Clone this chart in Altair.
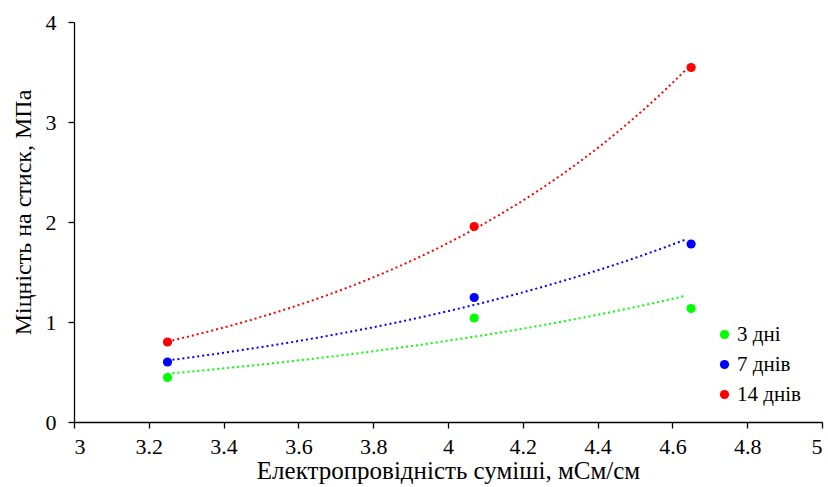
import altair as alt
import pandas as pd

series_names = ["3 дні", "7 днів", "14 днів"]
conductivity = [3.25, 4.07, 4.65]
strength_3 = [0.445, 1.04, 1.135]
strength_7 = [0.60, 1.245, 1.78]
strength_14 = [0.80, 1.955, 3.545]
colors = ["#00ff00", "#0000ff", "#ff0000"]
x_ticks = [3, 3.2, 3.4, 3.6, 3.8, 4, 4.2, 4.4, 4.6, 4.8, 5]
y_ticks = [0, 1, 2, 3, 4]

rows = []
for name, vals in zip(series_names, [strength_3, strength_7, strength_14]):
    for xv, yv in zip(conductivity, vals):
        rows.append({"series": name, "x": xv, "y": yv})
df = pd.DataFrame(rows)

FONT = "Times New Roman, Liberation Serif, serif"
xscale = alt.Scale(domain=[3, 5], nice=False, zero=False)
yscale = alt.Scale(domain=[0, 4], nice=False)
cscale = alt.Scale(domain=series_names, range=colors)

x_axis = alt.Axis(values=x_ticks, format=".1~f", title="Електропровідність суміші, мСм/см",
                  grid=False, labelPadding=8, titlePadding=1, titleFontSize=25,
                  labelFont=FONT, titleFont=FONT)
y_axis = alt.Axis(values=y_ticks, format="d", title="Міцність на стиск, МПа",
                  grid=False, labelPadding=12, titlePadding=10, titleY=190,
                  titleFontSize=24, labelFont=FONT, titleFont=FONT)

legend = alt.Legend(
    title=None, orient="none", legendX=640, legendY=302,
    labelFont=FONT, labelFontSize=21, labelColor="black",
    symbolType="circle", symbolSize=85, rowPadding=8, labelOffset=2,
)

base = alt.Chart(df)

trend = (
    base.transform_calculate(ly="log(datum.y)")
    .transform_regression("x", "ly", method="poly", order=1,
                          extent=[3.25, 4.635], groupby=["series"])
    .transform_calculate(yt="exp(datum.ly)")
    .mark_line(strokeDash=[2, 3], strokeWidth=2)
    .encode(
        x=alt.X("x:Q", scale=xscale, axis=x_axis),
        y=alt.Y("yt:Q", scale=yscale, axis=y_axis),
        color=alt.Color("series:N", scale=cscale, legend=legend),
        detail="series:N",
    )
)

points = base.mark_circle(size=85, opacity=1).encode(
    x=alt.X("x:Q", scale=xscale, axis=x_axis),
    y=alt.Y("y:Q", scale=yscale, axis=y_axis),
    color=alt.Color("series:N", scale=cscale, legend=legend),
)

chart = (
    alt.layer(trend, points)
    .properties(width=748, height=400, autosize=alt.AutoSizeParams(type="none"),
                padding={"left": 74, "top": 22, "right": 6, "bottom": 65})
    .configure(background="white", font=FONT)
    .configure_view(stroke=None)
    .configure_axis(
        labelFont=FONT, titleFont=FONT, labelFontSize=22,
        titleFontWeight="normal", labelColor="black", titleColor="black",
        domainColor="black", tickColor="black", domainWidth=1.3, tickWidth=1.3,
        tickSize=6,
    )
    .configure_legend(symbolType="circle", symbolStrokeWidth=0, labelFont=FONT)
)

chart.save("out.html", embed_options={"renderer": "svg", "actions": False})
